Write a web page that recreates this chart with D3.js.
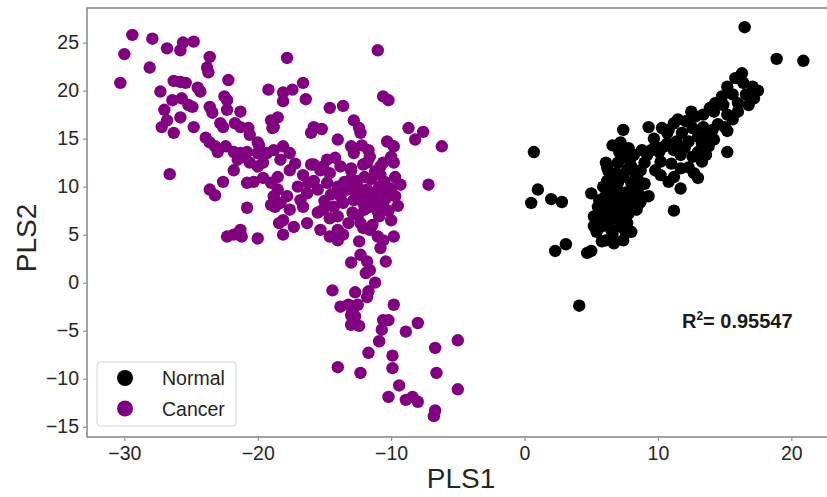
<!DOCTYPE html>
<html>
<head>
<meta charset="utf-8">
<script src="https://cdn.jsdelivr.net/npm/d3@7"></script>
<style>
  html, body { margin: 0; padding: 0; background: #fff; }
  svg { display: block; }
  text { font-family: "Liberation Sans", Arial, sans-serif; }
</style>
</head>
<body>
<svg id="chart" width="827" height="497"></svg>
<script>
// ---- DATA ----
const categories = ["Normal", "Cancer"];
const categoryColors = ["#000000", "#800080"];

const normalX = [7.4,9.3,0.7,6.6,7.2,8.8,9.2,1.0,0.5,2.0,2.8,5.0,6.1,6.3,7.0,7.4,8.0,8.7,5.9,6.5,7.0,7.4,8.0,8.5,8.7,5.5,6.1,6.7,7.3,8.0,8.5,5.2,5.9,6.7,7.2,7.7,5.7,6.5,7.2,6.1,6.7,7.4,3.1,2.3,4.7,5.0,5.8,4.1,
  16.5,18.9,20.9,16.3,15.8,15.2,17.1,15.6,16.6,17.2,14.3,14.9,16.0,16.8,14.2,15.2,16.0,13.4,12.8,12.1,11.2,10.3,12.6,13.4,14.1,15.2,11.8,13.8,13.0,10.7,9.7,14.2,12.3,13.3,13.8,10.7,10.1,11.2,11.7,13.0,13.6,12.6,10.2,11.0,13.3,15.2,9.8,11.7,10.2,12.7,11.2,13.0,11.7,8.5,8.0,8.7,7.4,11.2,
  6.0,6.4,7.0,7.6,6.9,5.6,7.8,6.3,7.0,5.4,8.3,7.7,6.6,9.0,9.5,10.5,12.0,14.5,15.6,14.8,16.4,15.0,12.3,10.8,8.2,7.8,11.5,13.9,17.5,8.0,9.0,9.3,
  6.2,6.8,7.6,6.0,5.7,6.5,7.3,8.1,6.9,7.9,6.6,7.6,5.2,8.4,6.2,7.1,9.8,11.4,12.5,10.8];
const normalY = [15.9,16.2,13.6,14.3,14.6,13.8,13.3,9.7,8.3,8.7,8.4,9.3,12.5,11.6,12.5,13.0,12.1,11.7,10.0,9.7,10.4,11.0,10.4,10.7,9.0,7.9,8.3,8.6,9.0,8.3,8.1,6.9,6.5,6.9,7.3,6.2,5.8,5.5,5.8,4.4,4.1,4.4,4.0,3.3,3.1,3.3,4.3,-2.4,
  26.6,23.3,23.1,21.8,21.3,20.4,20.4,19.6,19.6,19.2,18.7,18.5,18.7,18.5,17.8,17.5,17.8,17.5,17.3,16.8,16.6,16.1,16.1,16.2,15.9,15.8,15.6,15.4,15.2,15.6,15.0,14.9,14.7,14.5,14.2,14.5,13.6,13.8,13.3,13.6,13.3,13.1,12.6,12.4,12.6,13.6,11.7,11.9,11.2,11.4,11.0,10.9,9.8,9.8,9.0,8.4,7.8,7.5,
  7.2,9.0,9.5,8.7,7.6,8.6,7.2,6.2,6.6,5.3,11.3,11.8,11.0,12.5,13.8,14.2,14.0,16.5,17.0,19.4,20.8,16.2,12.0,10.5,13.3,14.0,17.0,18.2,20.0,5.3,10.3,9.0,
  10.6,10.0,9.4,8.9,7.4,7.8,8.2,9.7,11.4,12.8,5.0,5.2,5.9,7.6,12.0,13.6,14.2,14.7,17.8,15.9];

const cancerX = [-29.4,-27.9,-26.8,-25.8,-25.6,-24.8,-30.0,-28.1,-30.3,-23.6,-23.8,-23.7,-22.2,-27.3,-26.3,-25.8,-25.4,-26.4,-25.7,-25.2,-24.9,-24.5,-24.3,-27.0,-26.8,-27.2,-25.8,-26.3,-24.8,-23.6,-23.4,-22.5,-22.3,-22.3,-21.3,-22.8,-22.6,-21.7,-21.3,-20.7,-20.6,-20.0,-19.2,-19.0,-18.8,-23.9,-23.6,-23.2,-22.4,-21.8,-21.3,-20.8,-20.0,-19.3,-18.8,
  -26.6,-23.0,-21.5,-21.8,-21.1,-20.6,-20.0,-19.6,-19.9,-22.6,-23.6,-23.2,-20.8,-20.3,-19.6,-19.0,-18.5,-20.8,-19.0,-18.7,-22.3,-21.8,-21.3,-21.2,-20.0,-18.4,
  -17.8,-11.0,-18.1,-17.4,-16.6,-16.4,-18.1,-14.6,-13.6,-10.6,-10.2,-8.7,-7.6,-8.2,-6.2,-18.5,-18.9,-15.8,-15.2,-16.0,-14.0,-12.8,-12.4,-12.3,-13.0,-12.8,-12.2,-11.7,-11.6,-10.3,-9.8,-10.0,-10.6,-18.1,-17.6,-18.3,-14.2,-15.8,-15.1,-13.0,-12.1,
  -17.6,-16.0,-15.3,-14.6,-13.8,-13.0,-11.8,-10.8,-9.8,-9.7,-16.6,-18.5,-17.8,-17.0,-16.3,-15.5,-14.8,-14.0,-13.3,-12.5,-11.8,-11.3,-10.6,-10.3,-9.7,-12.8,-12.1,-11.6,-11.0,-13.6,-14.3,-15.1,-15.5,-16.6,-17.6,-18.3,-18.8,-18.1,-17.3,-18.1,-16.3,-15.3,-14.6,-14.0,-13.6,-14.0,-14.6,-14.0,-12.9,-12.3,-12.1,-11.6,-11.0,-10.6,-12.4,-10.8,-9.8,-10.4,-12.3,-13.0,-11.8,-11.6,-7.2,
  -11.0,-10.5,-11.5,-12.0,-10.2,-11.8,-13.0,-9.5,-15.8,-16.8,-13.8,-12.5,-9.3,-10.8,
  -10.9,-11.4,-12.2,-10.0,-10.4,-11.2,-12.8,-13.5,-14.5,-15.0,-12.0,-10.9,-13.2,-11.4,-10.0,-14.8,-16.2,-17.2,-12.6,-11.6,
  -11.9,-11.2,-11.7,-11.8,-12.7,-14.4,-13.8,-13.2,-12.9,-12.5,-13.0,-13.0,-12.4,-9.8,-10.6,-10.2,-10.7,-10.9,-8.9,-8.0,-11.7,-9.9,-9.9,-14.0,-12.3,-9.4,-10.2,-8.9,-8.4,-8.0,-6.7,-5.0,-6.6,-5.0,-6.7,-6.8,-12.7];
const cancerY = [25.8,25.4,24.4,24.2,25.0,25.1,23.8,22.4,20.8,23.5,22.4,21.9,21.1,19.9,21.0,20.9,20.8,19.0,19.2,18.5,18.3,20.3,19.9,18.0,16.9,16.2,17.2,15.6,16.2,18.3,17.7,19.4,19.0,18.0,17.8,16.6,16.2,16.6,16.2,16.1,15.4,14.6,20.1,16.9,16.2,15.1,14.6,14.2,14.2,13.6,13.5,13.6,13.5,13.5,13.8,
  11.3,13.6,12.8,11.7,13.1,12.5,12.1,12.5,14.3,10.5,9.7,9.1,10.4,10.5,10.9,10.4,11.0,7.8,8.1,7.9,4.8,5.0,5.5,4.8,4.6,6.2,
  23.4,24.2,19.8,20.1,20.8,19.1,18.9,18.2,18.4,19.4,19.0,16.1,15.7,14.9,14.2,17.2,16.1,16.2,16.0,15.6,14.9,16.9,16.1,15.6,14.2,13.5,14.3,13.8,13.1,14.7,14.2,13.1,12.5,14.2,13.5,12.8,13.0,12.3,12.1,11.9,12.3,
  11.7,12.3,11.7,11.4,12.1,11.7,12.5,12.1,12.5,11.0,11.2,9.7,9.0,10.0,9.3,9.7,10.4,10.0,9.7,10.0,9.7,9.0,8.3,9.3,9.0,8.6,8.3,7.9,7.4,8.3,7.9,7.6,7.3,7.9,7.6,8.3,9.0,6.5,5.8,5.0,6.2,5.5,4.8,5.5,5.0,4.4,6.7,6.9,7.3,6.2,5.7,5.5,4.8,4.4,4.3,3.6,4.8,2.2,2.9,2.1,2.2,1.3,10.2,
  9.5,10.5,10.8,11.0,7.5,8.8,10.8,8.0,10.6,8.6,9.0,7.0,10.2,11.2,
  10.0,8.3,9.2,9.8,8.8,11.6,9.6,10.5,9.2,8.5,7.6,6.9,6.2,6.0,6.5,12.8,10.4,12.4,10.6,9.4,
  1.0,0.0,-0.9,-1.5,-1.0,-0.8,-2.5,-2.3,-2.8,-2.3,-3.4,-4.4,-4.5,-2.3,-3.9,-3.9,-4.9,-6.1,-5.1,-4.2,-7.3,-7.6,-8.9,-8.8,-9.4,-10.7,-11.9,-12.2,-11.9,-12.4,-6.8,-6.0,-9.4,-11.1,-13.3,-13.9,-3.5];

const xTicks = [-30, -20, -10, 0, 10, 20];
const yTicks = [-15, -10, -5, 0, 5, 10, 15, 20, 25];
const xLabel = "PLS1";
const yLabel = "PLS2";
const annotation = { base: "R", sup: "2", rest: "= 0.95547", x: 11.8, y: -4.7 };

// ---- CHART ----
const svg = d3.select("#chart");
const W = 827, H = 497;
const mLeft = 87, mRight = 830, mTop = 8, mBottom = 437;

const x = d3.scaleLinear().domain([-32.8, 22.9]).range([mLeft, mRight]);
const y = d3.scaleLinear().domain([-16.07, 28.6]).range([mBottom, mTop]);

svg.append("rect").attr("width", W).attr("height", H).attr("fill", "#fff");

const series = [
  { name: categories[0], color: categoryColors[0], xs: normalX, ys: normalY },
  { name: categories[1], color: categoryColors[1], xs: cancerX, ys: cancerY }
];

svg.append("defs").append("clipPath").attr("id", "plotclip")
  .append("rect").attr("x", mLeft).attr("y", mTop).attr("width", mRight - mLeft).attr("height", mBottom - mTop);

const plot = svg.append("g").attr("clip-path", "url(#plotclip)");
series.forEach(s => {
  const pts = s.xs.map((v, i) => [v, s.ys[i]]);
  plot.append("g").selectAll("circle").data(pts).join("circle")
    .attr("cx", d => x(d[0]))
    .attr("cy", d => y(d[1]))
    .attr("r", 6.2)
    .attr("fill", s.color);
});

// frame
const spineColor = "#8c8c8c";
svg.append("rect").attr("x", mLeft).attr("y", mTop)
  .attr("width", mRight - mLeft).attr("height", mBottom - mTop)
  .attr("fill", "none").attr("stroke", spineColor).attr("stroke-width", 1.6);

// axes
const xAxis = svg.append("g").attr("transform", `translate(0,${mBottom})`)
  .call(d3.axisBottom(x).tickValues(xTicks).tickSize(4).tickPadding(5).tickFormat(d3.format("")));
const yAxis = svg.append("g").attr("transform", `translate(${mLeft},0)`)
  .call(d3.axisLeft(y).tickValues(yTicks).tickSize(4).tickPadding(4).tickFormat(d3.format("")));
[xAxis, yAxis].forEach(a => {
  a.select(".domain").remove();
  a.selectAll(".tick line").attr("stroke", spineColor).attr("stroke-width", 1.2);
  a.selectAll(".tick text").attr("fill", "#262626").attr("font-size", 19.5)
    .attr("font-family", "'Liberation Sans', Arial, sans-serif");
});

// axis labels
svg.append("text").attr("x", 461).attr("y", 488).attr("text-anchor", "middle")
  .attr("font-size", 28).attr("fill", "#262626").text(xLabel);
svg.append("text").attr("transform", `translate(36,${238}) rotate(-90)`).attr("text-anchor", "middle")
  .attr("font-size", 28).attr("fill", "#262626").text(yLabel);

// annotation
const ann = svg.append("text").attr("x", x(annotation.x)).attr("y", y(annotation.y))
  .attr("font-family", "'Open Sans', 'Liberation Sans', sans-serif").attr("font-weight", "bold")
  .attr("font-size", 20).attr("fill", "#1a1a1a");
ann.append("tspan").text(annotation.base);
ann.append("tspan").attr("font-size", 12).attr("dy", -8).text(annotation.sup);
ann.append("tspan").attr("dy", 8).text(annotation.rest);

// legend
const lg = svg.append("g");
lg.append("rect").attr("x", 97).attr("y", 362).attr("width", 139).attr("height", 64)
  .attr("rx", 3).attr("fill", "#fff").attr("fill-opacity", 0.85)
  .attr("stroke", "#d5d5d5").attr("stroke-width", 1);
series.forEach((s, i) => {
  const cy = 378 + i * 30.5;
  lg.append("circle").attr("cx", 125).attr("cy", cy).attr("r", 8).attr("fill", s.color);
  lg.append("text").attr("x", 162).attr("y", cy + 7).attr("font-size", 19.5)
    .attr("fill", "#262626").text(s.name);
});
</script>
</body>
</html>
